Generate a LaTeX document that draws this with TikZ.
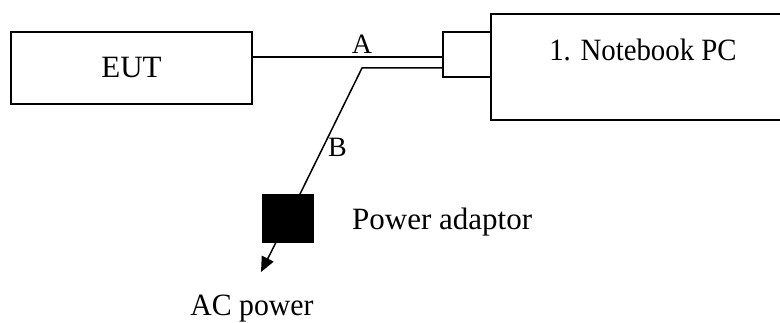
\documentclass[tikz,border=0pt]{standalone}
\usepackage{fontspec}
\usepackage{graphicx}
\setmainfont{Liberation Serif}
\usetikzlibrary{arrows.meta}

\begin{document}
\begin{tikzpicture}[x=1pt,y=-1pt,
  box/.style={draw,line width=1.5pt,inner sep=0pt},
  cable/.style={line width=1.5pt},
  lbl/.style={inner sep=0pt,font=\fontsize{31}{36}\selectfont},
  tag/.style={inner sep=0pt,font=\fontsize{28}{34}\selectfont}]
\useasboundingbox (0,0) rectangle (780,323);

\node[box,minimum width=241pt,minimum height=72pt,font=\fontsize{31}{36}\selectfont] (eut) at (131.5,68) {EUT};
\node[box,line width=2.5pt,minimum width=295pt,minimum height=106pt] (pc) at (638.5,67) {};
\node[box,minimum width=48pt,minimum height=45pt] (port) at (467,54.5) {};
\node[box,fill=black,minimum width=50pt,minimum height=47pt] (adaptor) at (288,218.5) {};

\coordinate (bend) at (362,68);
\coordinate (acend) at (261,272);

\draw[cable] (eut.east |- 0,57) -- (port.west |- 0,57);
\draw[cable] (port.west |- bend) -- (bend) -- (adaptor);
\draw[cable,-{Triangle[length=15pt,width=13pt]}] (adaptor) -- (acend);

\node[lbl,anchor=base] (pclabel) at (643,61) {\scalebox{0.93}[1]{1. Notebook PC}};
\node[tag,anchor=base] (labA) at (362,54) {A};
\node[tag,anchor=base west] (labB) at (328,157) {B};
\node[lbl,anchor=base west] (adlabel) at (352,230) {Power adaptor};
\node[lbl,anchor=base] (aclabel) at (252,316) {\scalebox{0.96}[1]{AC power}};
\end{tikzpicture}
\end{document}
